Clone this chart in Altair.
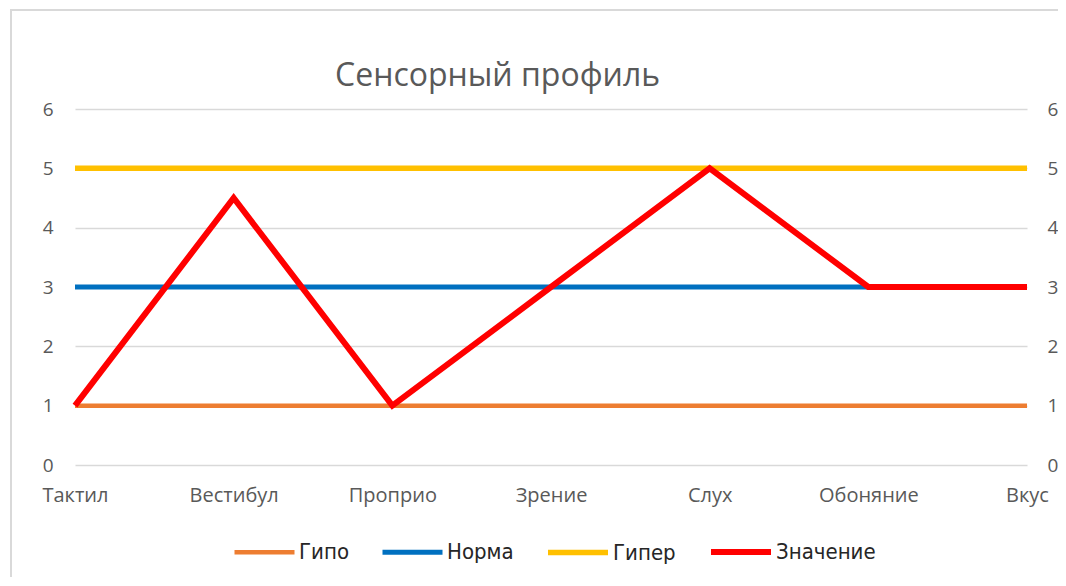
import altair as alt
import pandas as pd

categories = ["Тактил", "Вестибул", "Проприо", "Зрение", "Слух", "Обоняние", "Вкус"]
series_names = ["Гипо", "Норма", "Гипер", "Значение"]
series_colors = ["#ED7D31", "#0070C0", "#FFC000", "#FF0000"]
series_widths = [4.5, 6, 5, 5.5]
gipo = [1, 1, 1, 1, 1, 1, 1]
norma = [3, 3, 3, 3, 3, 3, 3]
giper = [5, 5, 5, 5, 5, 5, 5]
znachenie = [1, 4.5, 1, 3, 5, 3, 3]
y_ticks = [0, 1, 2, 3, 4, 5, 6]
chart_title = ["Сенсорный профиль"]

rows = []
for name, vals in zip(series_names, [gipo, norma, giper, znachenie]):
    for c, v in zip(categories, vals):
        rows.append({"category": c, "series": name, "value": v})
df = pd.DataFrame(rows)

label_color = "#595959"
grid_color = "#D9D9D9"

x_enc = alt.X(
    "category:N", sort=categories,
    scale=alt.Scale(type="point", padding=0),
    axis=alt.Axis(title=None, labelAngle=0, labelPadding=20, labelFontSize=20,
                  labelColor=label_color, labelFont="Open Sans",
                  domain=False, ticks=False, grid=False),
)

color_enc = alt.Color(
    "series:N",
    scale=alt.Scale(domain=series_names, range=series_colors),
    legend=alt.Legend(
        title=None, orient="none", legendX=157, legendY=410, direction="horizontal",
        symbolType="stroke", symbolSize=3600, symbolStrokeWidth=5.5,
        labelFont="DejaVu Sans Condensed", labelFontSize=22, labelColor="#262626",
        labelOffset=2, columnPadding=23, padding=0,
    ),
)

width_enc = alt.StrokeWidth(
    "series:N",
    scale=alt.Scale(domain=series_names, range=series_widths),
    legend=None,
)

y_left = alt.Y(
    "value:Q", scale=alt.Scale(domain=[0, 6]),
    axis=alt.Axis(title=None, values=y_ticks, orient="left", grid=True,
                  gridColor=grid_color, gridWidth=1.5, domain=False, ticks=False,
                  labelPadding=22, labelFontSize=19, labelColor=label_color,
                  labelFont="Open Sans"),
)
y_right = alt.Y(
    "value:Q", scale=alt.Scale(domain=[0, 6]),
    axis=alt.Axis(title=None, values=y_ticks, orient="right", grid=False,
                  domain=False, ticks=False,
                  labelPadding=20, labelFontSize=19, labelColor=label_color,
                  labelFont="Open Sans"),
)

ref_lines = alt.Chart(df).transform_filter(
    alt.datum.series != "Значение"
).mark_line(strokeCap="butt").encode(
    x=x_enc, y=y_left, color=color_enc, strokeWidth=width_enc, detail="series:N",
)

value_line = alt.Chart(df).transform_filter(
    alt.datum.series == "Значение"
).mark_line(strokeJoin="miter", strokeCap="butt").encode(
    x=x_enc, y=y_right, color=color_enc, strokeWidth=width_enc,
)

border = alt.Chart(pd.DataFrame({"a": [0]})).mark_rect(
    fillOpacity=0, stroke=grid_color, strokeWidth=2, clip=False
).encode(
    x=alt.value(-64), x2=alt.value(1100), y=alt.value(-99), y2=alt.value(700)
)

title_text = alt.Chart(pd.DataFrame({"t": chart_title})).mark_text(
    align="left", baseline="alphabetic", font="Open Sans", fontSize=32,
    color=label_color,
).encode(text="t:N", x=alt.value(260), y=alt.value(-23))

chart = alt.layer(border, title_text, ref_lines, value_line).resolve_scale(
    y="independent"
).properties(
    width=952, height=356,
    padding={"left": 67, "top": 101, "right": 31, "bottom": 112},
    autosize=alt.AutoSizeParams(type="none"),
).configure_view(stroke=None)

chart.save("out.html", embed_options={"renderer": "svg", "actions": False})
